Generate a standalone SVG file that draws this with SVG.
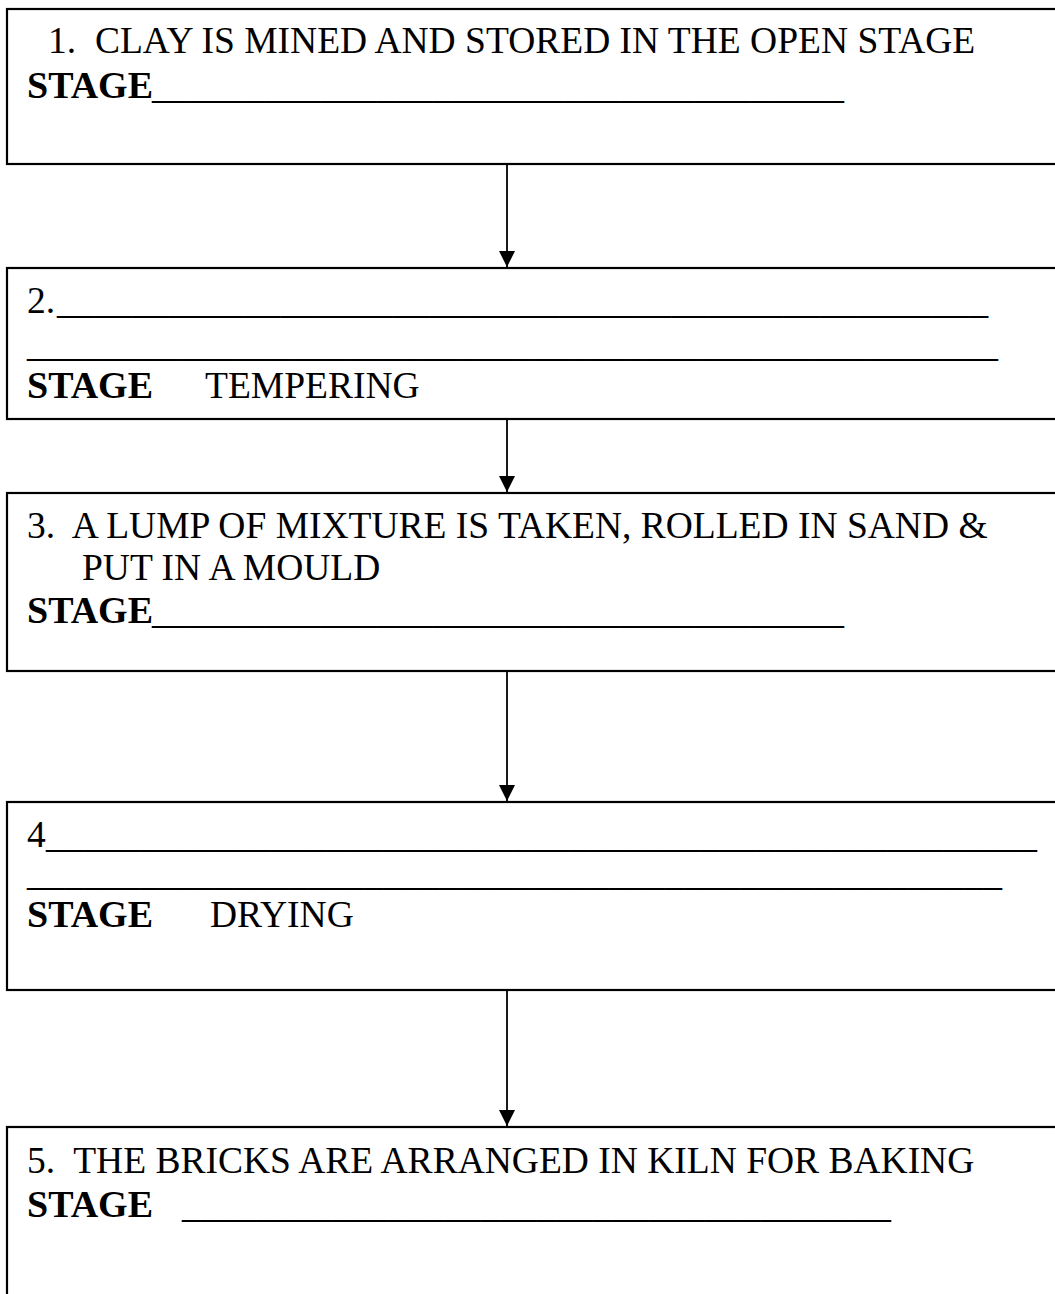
<svg xmlns="http://www.w3.org/2000/svg" width="1055" height="1294" viewBox="0 0 1055 1294">
<style>
.box{fill:#fff;stroke:#000;stroke-width:2.2}
.t{font-family:"Liberation Serif","Times New Roman",serif;font-size:37.5px;fill:#000;white-space:pre}
.b{font-weight:bold;font-size:38px}
.con{stroke:#000;stroke-width:1.8;fill:none}
</style>
<defs>
<marker id="ah" viewBox="0 0 10 10" refX="10" refY="5" markerWidth="16" markerHeight="16" markerUnits="userSpaceOnUse" orient="auto">
<path d="M0,0 L10,5 L0,10 z" fill="#000"/>
</marker>
</defs>
<rect width="1055" height="1294" fill="#fff"/>
<g id="connectors">
<line class="con" x1="507" y1="164" x2="507" y2="267" marker-end="url(#ah)"/>
<line class="con" x1="507" y1="419" x2="507" y2="492" marker-end="url(#ah)"/>
<line class="con" x1="507" y1="671" x2="507" y2="801" marker-end="url(#ah)"/>
<line class="con" x1="507" y1="990" x2="507" y2="1126" marker-end="url(#ah)"/>
</g>
<g id="node1">
<rect class="box" x="7" y="9" width="1060" height="155"/>
<text class="t" x="48" y="53" xml:space="preserve">1.  CLAY IS MINED AND STORED IN THE OPEN STAGE</text>
<text class="t b" x="27" y="98">STAGE</text>
<text class="t" x="152" y="98" textLength="692" lengthAdjust="spacingAndGlyphs">_____________________________________</text>
</g>
<g id="node2">
<rect class="box" x="7" y="268" width="1060" height="151"/>
<text class="t" x="27" y="313">2.</text>
<text class="t" x="57" y="313" textLength="931" lengthAdjust="spacingAndGlyphs">__________________________________________________</text>
<text class="t" x="27" y="356" textLength="971" lengthAdjust="spacingAndGlyphs">____________________________________________________</text>
<text class="t b" x="27" y="398">STAGE</text>
<text class="t" x="205" y="398">TEMPERING</text>
</g>
<g id="node3">
<rect class="box" x="7" y="493" width="1060" height="178"/>
<text class="t" x="27" y="538" xml:space="preserve">3.  A LUMP OF MIXTURE IS TAKEN, ROLLED IN SAND &amp;</text>
<text class="t" x="82" y="580">PUT IN A MOULD</text>
<text class="t b" x="27" y="623">STAGE</text>
<text class="t" x="152" y="623" textLength="692" lengthAdjust="spacingAndGlyphs">_____________________________________</text>
</g>
<g id="node4">
<rect class="box" x="7" y="802" width="1060" height="188"/>
<text class="t" x="27" y="847">4</text>
<text class="t" x="46" y="847" textLength="991" lengthAdjust="spacingAndGlyphs">_____________________________________________________</text>
<text class="t" x="27" y="885" textLength="975" lengthAdjust="spacingAndGlyphs">____________________________________________________</text>
<text class="t b" x="27" y="927">STAGE</text>
<text class="t" x="210" y="927">DRYING</text>
</g>
<g id="node5">
<rect class="box" x="7" y="1127" width="1060" height="200"/>
<text class="t" x="27" y="1173" xml:space="preserve">5.  THE BRICKS ARE ARRANGED IN KILN FOR BAKING</text>
<text class="t b" x="27" y="1217">STAGE</text>
<text class="t" x="182" y="1217" textLength="709" lengthAdjust="spacingAndGlyphs">______________________________________</text>
</g>
</svg>
